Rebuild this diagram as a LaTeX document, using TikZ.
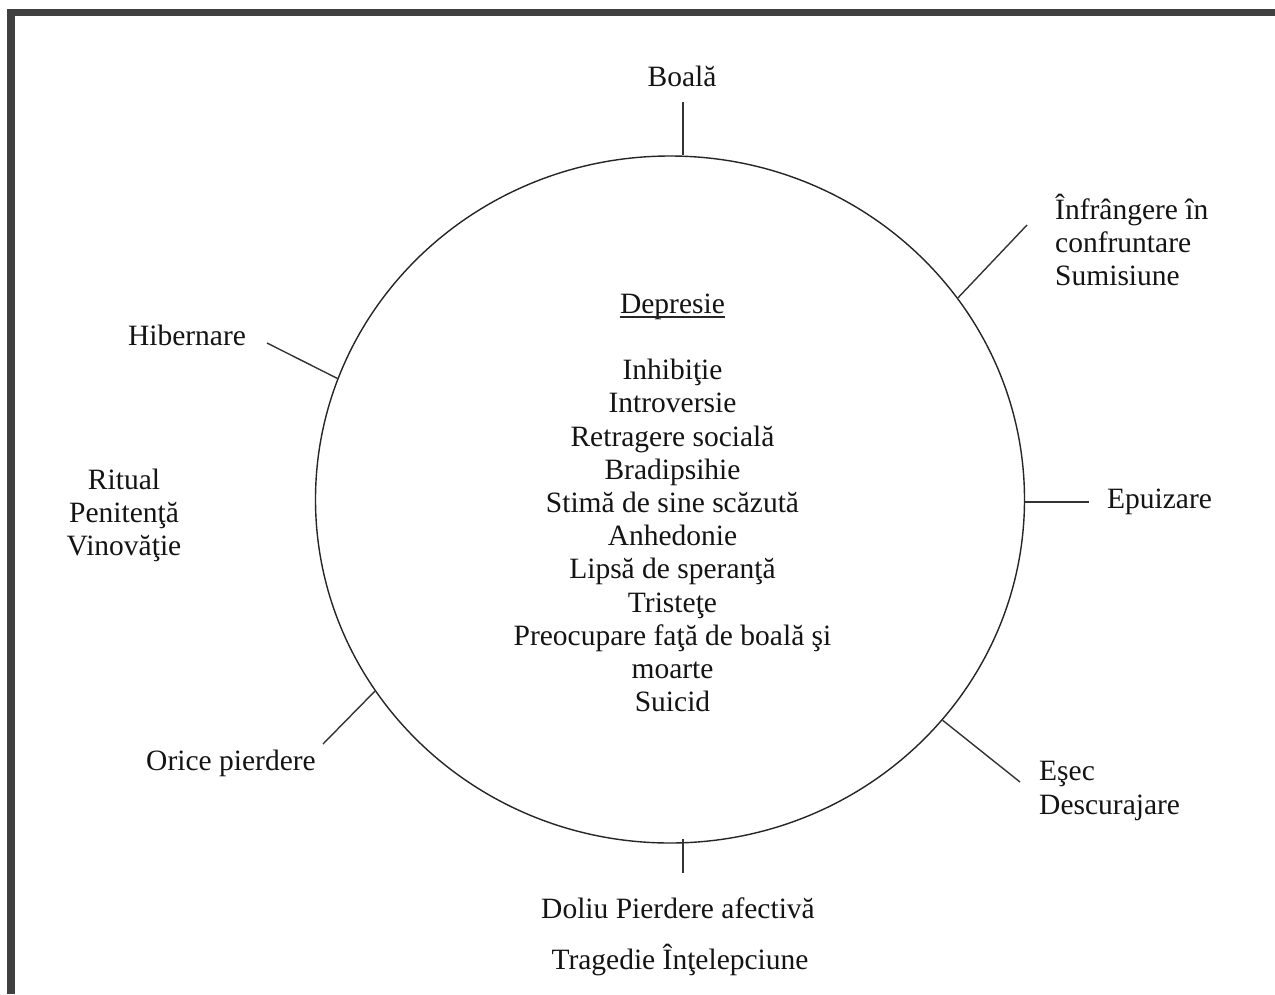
\documentclass[tikz,border=0pt]{standalone}
\usepackage{fontspec}
\setmainfont{Liberation Serif}
\usetikzlibrary{shapes.geometric}
\begin{document}
\begin{tikzpicture}[x=1pt,y=-1pt,
  lbl/.style={inner sep=0pt, font=\fontsize{29.5}{33.2}\selectfont, text=black!92},
  tick/.style={line width=1.4pt, draw=black!80},
]
\useasboundingbox (0,0) rectangle (1275,994);
\fill[white] (0,0) rectangle (1275,994);
\fill[black!75] (7,9) rectangle (1275,16);
\fill[black!75] (7,9) rectangle (15,994);
\node[ellipse, draw=black!85, line width=1.4pt, minimum width=709pt, minimum height=687pt, inner sep=0pt] (C) at (670,499.5) {};

\node[lbl, anchor=base] (boala) at (682,86) {Boală};
\node[lbl, anchor=west, align=left] (infr) at (1055,240) {Înfrângere în\\confruntare\\Sumisiune};
\node[lbl, anchor=base] (epu) at (1159.5,508) {Epuizare};
\node[lbl, anchor=west, align=left] (esec) at (1039,791) {Eşec\\Descurajare};
\node[lbl, anchor=base] (doliu) at (678,918) {Doliu Pierdere afectivă};
\node[lbl, anchor=base] (trag) at (680,969) {Tragedie Înţelepciune};
\node[lbl, anchor=base] (orice) at (231,770) {Orice pierdere};
\node[lbl, anchor=base] (hib) at (187,345) {Hibernare};
\node[lbl, align=center] (ritual) at (124,515.5) {Ritual\\Penitenţă\\Vinovăţie};
\node[lbl, anchor=base] (dep) at (672.5,313) {Depresie};
\draw[line width=1.3pt, black!85] ([yshift=-4pt]dep.base west) -- ([yshift=-4pt]dep.base east);
\node[lbl, align=center] (list) at (672.5,535.5) {Inhibiţie\\Introversie\\Retragere socială\\Bradipsihie\\Stimă de sine scăzută\\Anhedonie\\Lipsă de speranţă\\Tristeţe\\Preocupare faţă de boală şi\\moarte\\Suicid};

\coordinate (oBoala) at (683,102);
\coordinate (oInfr) at (1027,225);
\coordinate (oEpu) at (1089,502);
\coordinate (oEsec) at (1020,782);
\coordinate (oBottom) at (683,873);
\coordinate (oOrice) at (323,744);
\coordinate (oHib) at (267,343);
\draw[tick] (oBoala |- C.north) -- (oBoala);
\draw[tick] (C.35.6) -- (oInfr);
\draw[tick] (oEpu -| C.east) -- (oEpu);
\draw[tick] (C.-39.6) -- (oEsec);
\draw[tick] ([yshift=5pt]oBottom |- C.south) -- (oBottom);
\draw[tick] (C.213.8) -- (oOrice);
\draw[tick] (C.160.1) -- (oHib);
\end{tikzpicture}
\end{document}
